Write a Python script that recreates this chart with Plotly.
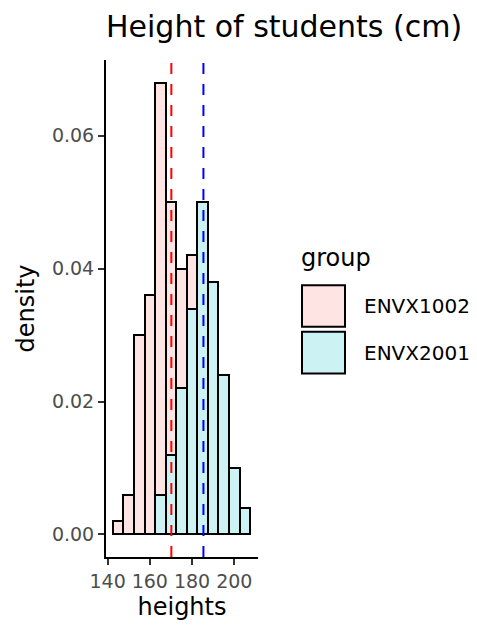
import plotly.graph_objects as go

# ---- data ----
bin_centers = [145, 150, 155, 160, 165, 170, 175, 180, 185, 190, 195, 200, 205]
bin_width = 5
groups = ["ENVX1002", "ENVX2001"]
density_envx1002 = [0.002, 0.006, 0.030, 0.036, 0.062, 0.038, 0.018, 0.008, 0.0, 0.0, 0.0, 0.0, 0.0]
density_envx2001 = [0.0, 0.0, 0.0, 0.0, 0.006, 0.012, 0.022, 0.034, 0.050, 0.038, 0.024, 0.010, 0.004]
group_means = [170.2, 185.4]
mean_colors = ["#FF0000", "#0000FF"]
fills = ["#FEE4E2", "#CCF2F3"]
x_ticks = [140, 160, 180, 200]
y_ticks = [0.00, 0.02, 0.04, 0.06]

W, H = 477, 628
ML, MR, MT, MB = 106, 219, 60, 67
PW, PH = W - ML - MR, H - MT - MB

def px(x):
    return (x - ML) / PW

def py(y):
    return (H - MB - y) / PH

FONT = "DejaVu Sans, Liberation Sans, sans-serif"

fig = go.Figure()
# ENVX2001 at the bottom of the stack, ENVX1002 on top (ggplot stacking order)
fig.add_trace(go.Bar(x=bin_centers, y=density_envx2001, width=bin_width, name=groups[1],
                     marker=dict(color=fills[1], line=dict(color="black", width=2)),
                     showlegend=False))
fig.add_trace(go.Bar(x=bin_centers, y=density_envx1002, width=bin_width, name=groups[0],
                     marker=dict(color=fills[0], line=dict(color="black", width=2)),
                     showlegend=False))

for m, c in zip(group_means, mean_colors):
    fig.add_shape(type="line", xref="x", yref="paper", x0=m, x1=m, y0=0, y1=1,
                  line=dict(color=c, width=2, dash="11px,10px"), layer="above")

# legend drawn manually (large ggplot-style keys)
key_x0, key_x1 = 302, 345
key_rows = [(287, 329), (334, 376)]
for (y0, y1), g, f in zip(key_rows, groups, fills):
    fig.add_shape(type="rect", xref="paper", yref="paper",
                  x0=px(key_x0), x1=px(key_x1), y0=py(y1), y1=py(y0),
                  fillcolor=f, line=dict(color="black", width=2))
    fig.add_annotation(xref="paper", yref="paper", x=px(362), y=py((y0 + y1) / 2),
                       text=g, showarrow=False, xanchor="left", yanchor="middle",
                       font=dict(family=FONT, size=20, color="black"))
fig.add_annotation(xref="paper", yref="paper", x=px(299), y=py(260),
                   text="group", showarrow=False, xanchor="left", yanchor="middle",
                   font=dict(family=FONT, size=24, color="black"))

fig.update_layout(
    width=W, height=H,
    margin=dict(l=ML, r=MR, t=MT, b=MB),
    paper_bgcolor="white", plot_bgcolor="white",
    barmode="stack", bargap=0,
    font=dict(family=FONT, color="black"),
    title=dict(text="Height of students (cm)", xref="paper", x=0.0, xanchor="left",
               yref="container", y=1 - 26 / H, yanchor="middle",
               font=dict(family=FONT, size=30, color="black")),
    xaxis=dict(range=[139.25, 211.25], tickvals=x_ticks, ticks="outside", ticklen=6,
               tickwidth=2, tickcolor="#333333", showline=True, linecolor="black",
               linewidth=2, showgrid=False, zeroline=False,
               tickfont=dict(family=FONT, size=19, color="#4D4D4D"),
               title=dict(text="heights", standoff=7, font=dict(family=FONT, size=24, color="black"))),
    yaxis=dict(range=[-0.0034, 0.0714], tickvals=y_ticks, tickformat=".2f", ticks="outside",
               ticklen=6, tickwidth=2, tickcolor="#333333", showline=True, linecolor="black",
               linewidth=2, showgrid=False, zeroline=False,
               tickfont=dict(family=FONT, size=19, color="#4D4D4D"),
               title=dict(text="density", standoff=10, font=dict(family=FONT, size=24, color="black"))),
)

fig.write_html("out.html")
